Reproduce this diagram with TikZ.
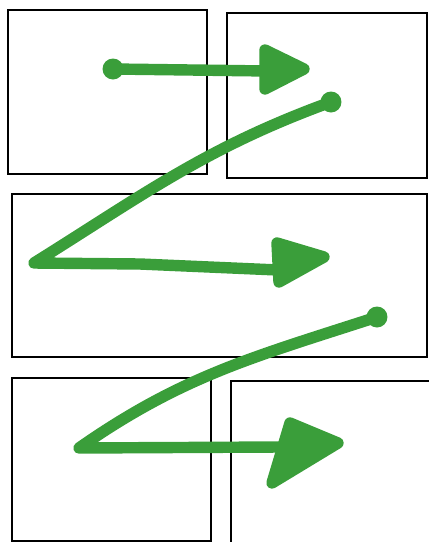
\documentclass[tikz,border=0pt]{standalone}
\definecolor{trait}{RGB}{58,158,58}
\begin{document}
\begin{tikzpicture}[x=0.02cm, y=-0.02cm,
    cadre/.style={draw, line width=1.5pt, inner sep=0pt, outer sep=0pt},
    trace/.style={draw=trait, line width=6.5pt, line cap=round, line join=round},
    pointe/.style={trace, fill=trait},
    point/.style={circle, fill=trait, inner sep=0pt, minimum size=0.42cm}]
        \useasboundingbox (0,0) rectangle (429,542);
        \clip (0,0) rectangle (429,542);

        % Cadres (deux en haut, un au milieu, deux en bas)
        \node[cadre, minimum width=3.98cm, minimum height=3.28cm] (hautG) at (107.5,92) {};
        \node[cadre, minimum width=4.0cm, minimum height=3.3cm] (hautD) at (327,95.5) {};
        \node[cadre, minimum width=8.3cm, minimum height=3.26cm] (milieu) at (219.5,275.5) {};
        \node[cadre, minimum width=3.98cm, minimum height=3.26cm] (basG) at (111.5,459.5) {};
        \node[cadre, minimum width=4.0cm, minimum height=3.3cm] (basD) at (331,463.5) {};

        % Trait 1
        \node[point] (d1) at (113,69) {};
        \coordinate (b1) at (268,71);
        \draw[trace] (d1.center) -- (b1);
        \draw[pointe] (304,69) -- (265,50) -- (265,89) -- cycle;

        % Trait 2
        \node[point] (d2) at (331,102) {};
        \coordinate (k2) at (34,263);
        \coordinate (b2) at (278,270);
        \draw[trace] (d2.center) to[out=200, in=32] (k2) -- (140,264) -- (b2);
        \draw[pointe] (324,257) -- (277,243) -- (279,282) -- cycle;

        % Trait 3
        \node[point] (d3) at (377,317) {};
        \coordinate (k3) at (79,448);
        \coordinate (b3) at (280,447);
        \draw[trace] (d3.center) to[out=198, in=35] (k3) -- (b3);
        \draw[pointe] (338,443) -- (290,423) -- (272,483) -- cycle;
    \end{tikzpicture}
\end{document}
